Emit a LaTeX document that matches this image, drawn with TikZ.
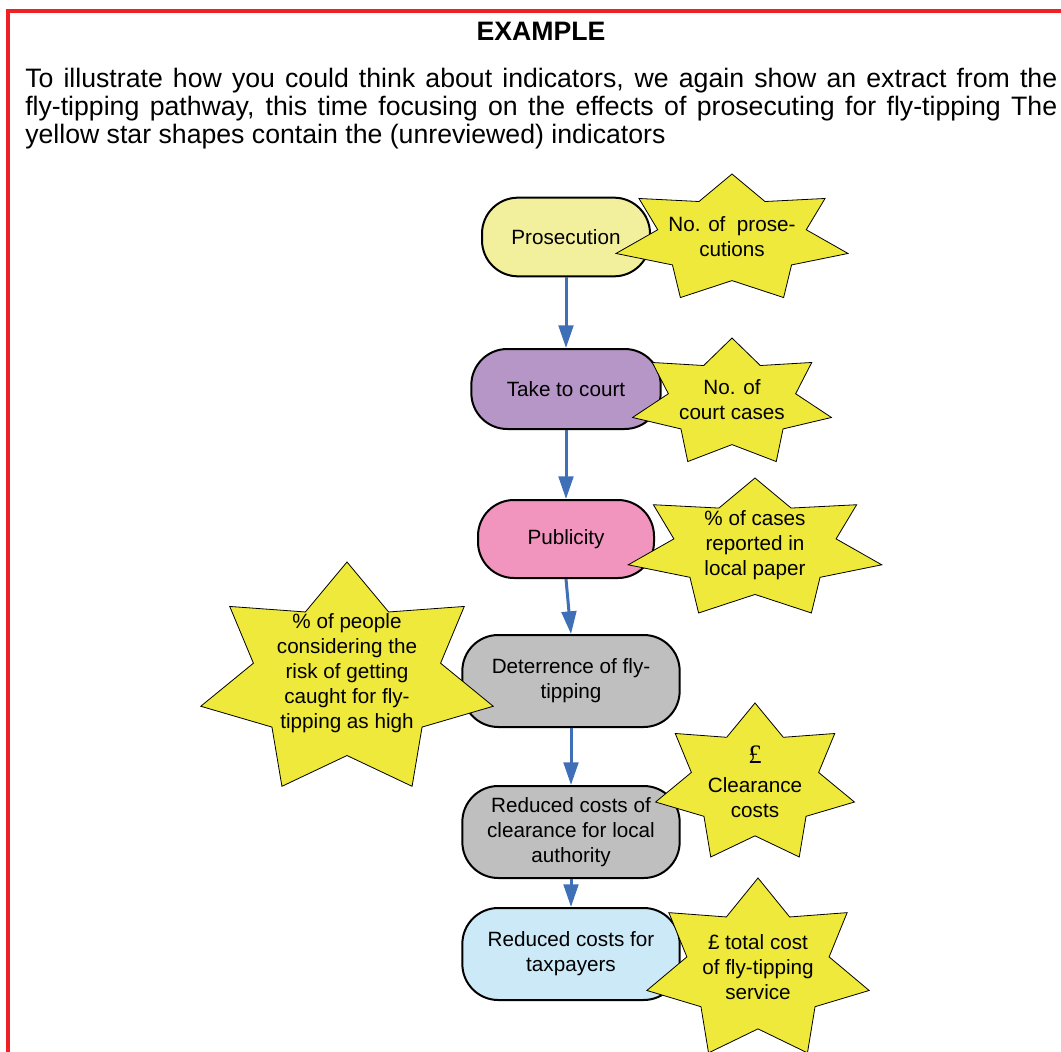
\documentclass[tikz,border=0pt]{standalone}
\usepackage{fontspec}
\setmainfont{Liberation Sans}
\newfontfamily\poundfont{Liberation Serif}
\usetikzlibrary{arrows.meta}

\definecolor{frameRed}{HTML}{EE2224}
\definecolor{arrowBlue}{HTML}{3F6FB6}
\definecolor{starYellow}{HTML}{EEE93A}
\definecolor{prosYellow}{HTML}{F3F09D}
\definecolor{courtPurple}{HTML}{B696C6}
\definecolor{pubPink}{HTML}{F194BE}
\definecolor{costGray}{HTML}{BFBFBF}
\definecolor{taxBlue}{HTML}{CCE9F7}

\begin{document}
\begin{tikzpicture}[
    x=0.75pt, y=-0.75pt,
    >={Triangle[length=17pt, width=11pt]},
    flow box/.style={draw=black, line width=1.5pt, rounded corners=27pt, align=center,
        inner sep=2pt, font=\fontsize{15.5}{18.75}\selectfont},
    flow arrow/.style={->, line width=2.25pt, color=arrowBlue},
    star outline/.style={fill=starYellow, draw=black, line width=0.6pt, line join=miter},
    indicator/.style={align=center, inner sep=0pt, font=\fontsize{15.5}{18.75}\selectfont},
]
\useasboundingbox (0,0) rectangle (1061,1052);

% === Frame and heading ===
\draw[frameRed, line width=3pt] (8,1052) -- (8,11) -- (1061,11);

\node[font=\fontsize{20}{24}\selectfont\bfseries] (title) at (541,31) {EXAMPLE};
\node[anchor=north west, inner sep=0pt, text width=774pt, align=justify,
      font=\fontsize{20}{21}\selectfont] (intro) at (25,68) {%
    To illustrate how you could think about indicators, we again show an extract from the\linebreak
    fly-tipping pathway, this time focusing on the effects of prosecuting for fly-tipping The\linebreak
    yellow star shapes contain the (unreviewed) indicators};

% === Pathway steps ===
\node[flow box, fill=prosYellow, minimum width=126pt, minimum height=59pt] (pros) at (566,237) {Prosecution};
\node[flow box, fill=courtPurple, minimum width=142pt, minimum height=60pt] (court) at (566,389) {Take to court};
\node[flow box, fill=pubPink, minimum width=132pt, minimum height=58.5pt] (pub) at (566,539) {Publicity};
\node[flow box, fill=costGray, minimum width=163pt, minimum height=69pt] (deter) at (571,681) {Deterrence of fly-\\tipping};
\node[flow box, fill=costGray, minimum width=163pt, minimum height=69pt] (clear) at (571,832) {Reduced costs of\\clearance for local\\authority};
\node[flow box, fill=taxBlue, minimum width=163pt, minimum height=69pt] (tax) at (571,954) {Reduced costs for\\taxpayers};

\draw[flow arrow] (pros) -- (court);
\draw[flow arrow] (court) -- (pub);
\draw[flow arrow] (pub.south) -- (deter.north);
\draw[flow arrow] (deter) -- (clear);
\draw[flow arrow] (clear) -- (tax);

% === Indicator stars (7 points) ===
\foreach \cx/\cy/\rx/\ry in {732/239/119/65, 732/403/102/65, 755/549/130/71,
                             347/680/150/118, 755/784/102/81, 758/970/114/92} {
  \begin{scope}[shift={(\cx,\cy)}]
    \filldraw[star outline] (0,-\ry)
      \foreach \k in {1,...,7} {
        -- ({0.64*\rx*cos(270+(\k-0.5)*360/7)},{0.64*\ry*sin(270+(\k-0.5)*360/7)})
        -- ({\rx*cos(270+\k*360/7)},{\ry*sin(270+\k*360/7)})
      } -- cycle;
  \end{scope}
}

\node[indicator] (ind pros) at (732,237) {No. of \ prose-\\cutions};
\node[indicator] (ind court) at (732,400) {No. of\\court cases};
\node[indicator] (ind pub) at (755,545) {\% of cases\\reported in\\local paper};
\node[indicator] (ind deter) at (347,673) {\% of people\\considering the\\risk of getting\\caught for fly-\\tipping as high};
\node[indicator] (ind clear) at (755,782) {{\poundfont\fontsize{20}{22}\selectfont £}\\[3pt]Clearance\\costs};
\node[indicator] (ind tax) at (758,967) {£ total cost\\of fly-tipping\\service};

\end{tikzpicture}
\end{document}
